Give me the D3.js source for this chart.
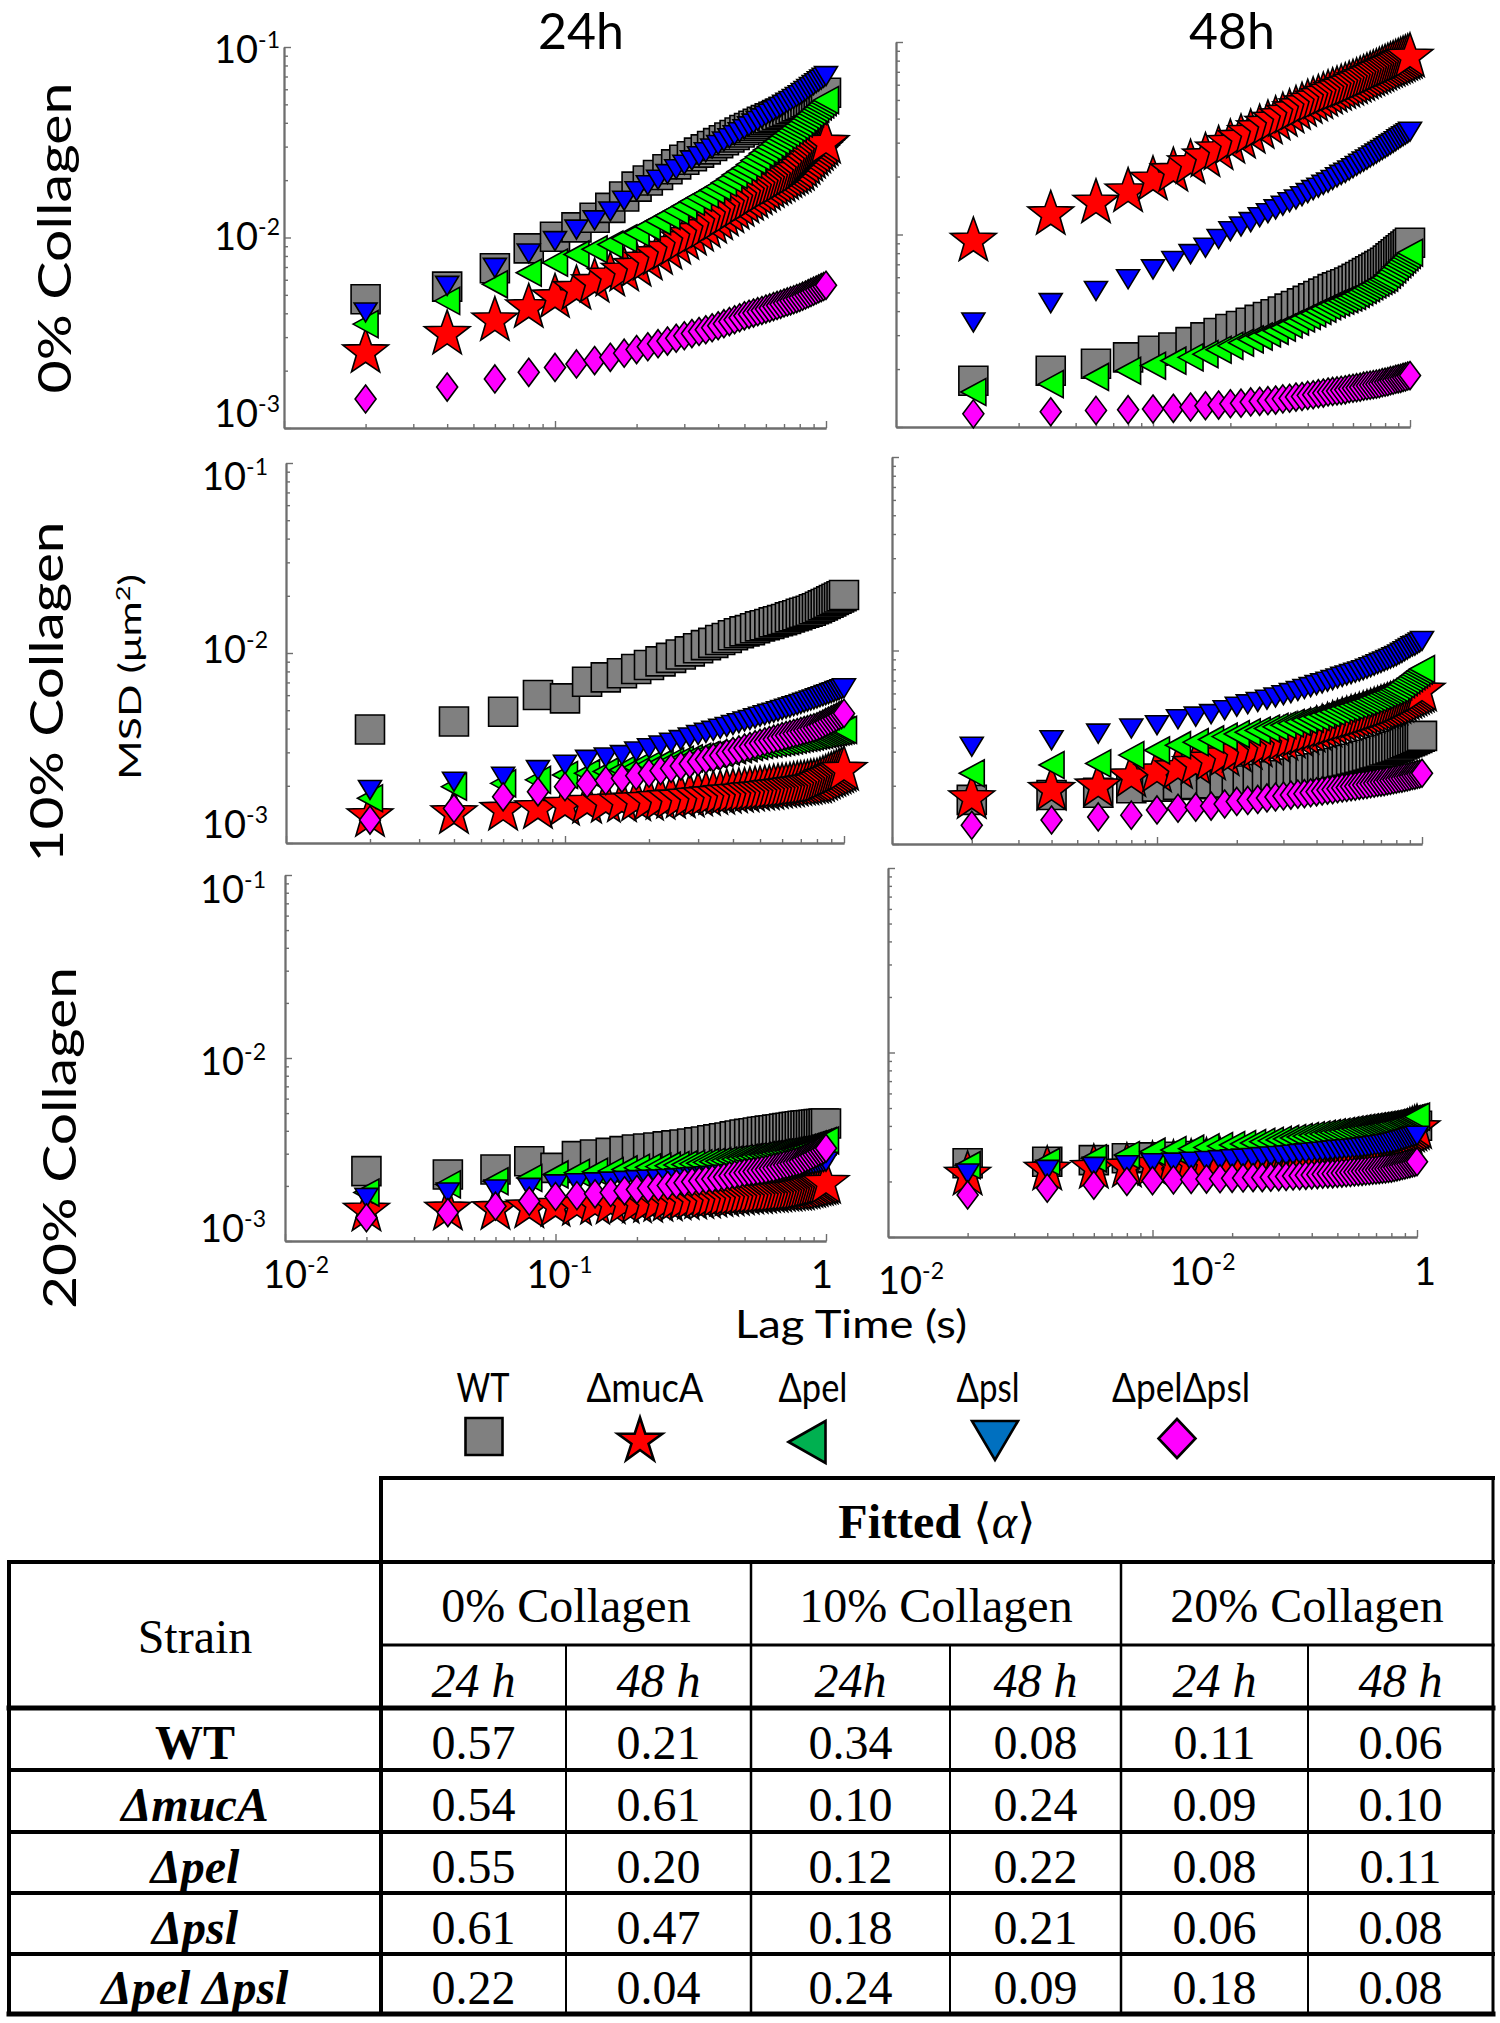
<!DOCTYPE html>
<html><head><meta charset="utf-8">
<script src="https://cdn.jsdelivr.net/npm/d3@7"></script>
<style>body{margin:0;background:#fff}svg{display:block}</style>
</head><body>
<script>
// ---------------- DATA ----------------
// Lag time (s)
const lagTime = [0.02,0.04,0.06,0.08,0.10,0.12,0.14,0.16,0.18,0.20,0.22,0.24,0.26,0.28,0.30,0.32,0.34,0.36,0.38,0.40,0.42,0.44,0.46,0.48,0.50,0.52,0.54,0.56,0.58,0.60,0.62,0.64,0.66,0.68,0.70,0.72,0.74,0.76,0.78,0.80,0.82,0.84,0.86,0.88,0.90,0.92,0.94,0.96,0.98,1.00];
const strains = ['WT','ΔmucA','Δpel','Δpsl','ΔpelΔpsl'];
const timePoints = ['24h','48h'];
const collagenLevels = ['0% Collagen','10% Collagen','20% Collagen'];

// MSD values, in units of 10^-3 μm^2
// 0% collagen, 24 h
const c0_24_WT     = [4.74,5.52,6.89,8.77,10.1,11.3,12.7,14.3,16.4,18.5,19.9,21.3,22.8,24.2,25.6,26.7,27.9,29.0,30.2,31.3,32.4,33.5,34.5,35.6,36.7,37.6,38.6,39.5,40.5,41.4,42.2,43.0,43.9,44.7,45.5,46.3,47.1,48.0,48.8,49.6,50.4,51.2,52.0,52.8,53.6,54.3,55.1,55.9,56.7,57.5];
const c0_24_mucA   = [2.49,3.11,3.66,4.29,4.84,5.35,5.82,6.28,6.68,7.08,7.62,8.16,8.69,9.23,9.77,10.3,10.8,11.3,11.9,12.4,13.0,13.5,14.1,14.6,15.2,15.7,16.2,16.8,17.3,17.8,18.3,18.8,19.2,19.7,20.2,20.7,21.2,21.6,22.1,22.6,23.5,24.3,25.2,26.1,27.0,27.8,28.7,29.6,30.4,31.3];
const c0_24_pel    = [3.51,4.65,5.68,6.53,7.38,8.15,8.67,9.18,9.89,10.6,11.4,12.2,13.0,13.8,14.6,15.4,16.2,16.9,17.7,18.5,19.4,20.3,21.3,22.2,23.1,24.2,25.4,26.5,27.7,28.8,29.9,31.0,32.1,33.2,34.3,35.3,36.4,37.5,38.6,39.7,41.0,42.3,43.6,44.9,46.2,47.4,48.7,50.0,51.3,52.6];
const c0_24_psl    = [4.04,5.57,6.93,8.24,9.57,11.0,12.3,13.7,15.6,17.5,18.8,20.1,21.5,22.8,24.1,25.4,26.7,28.0,29.3,30.6,31.9,33.2,34.4,35.7,37.0,38.3,39.6,40.9,42.2,43.5,44.7,46.0,47.2,48.4,49.7,50.9,52.1,53.3,54.6,55.8,57.3,58.7,60.2,61.6,63.1,64.5,66.0,67.4,68.9,70.3];
const c0_24_pelpsl = [1.42,1.64,1.81,1.96,2.08,2.17,2.26,2.35,2.47,2.58,2.67,2.77,2.86,2.96,3.05,3.13,3.21,3.28,3.36,3.44,3.53,3.62,3.70,3.79,3.88,3.95,4.01,4.08,4.14,4.21,4.27,4.34,4.40,4.46,4.53,4.59,4.65,4.71,4.78,4.84,4.92,4.99,5.07,5.15,5.23,5.30,5.38,5.46,5.53,5.61];
// 0% collagen, 48 h
const c0_48_WT     = [1.74,1.96,2.13,2.30,2.49,2.59,2.76,2.92,3.08,3.23,3.35,3.48,3.60,3.73,3.85,3.98,4.12,4.25,4.39,4.52,4.66,4.79,4.93,5.06,5.20,5.31,5.42,5.52,5.63,5.74,5.88,6.02,6.16,6.30,6.44,6.57,6.71,6.85,6.99,7.13,7.32,7.52,7.71,7.90,8.10,8.29,8.48,8.67,8.87,9.06];
const c0_48_mucA   = [9.25,12.7,14.6,16.7,19.2,21.3,23.4,25.4,27.6,29.8,31.7,33.6,35.6,37.5,39.4,41.1,42.8,44.6,46.3,48.0,49.4,50.8,52.3,53.7,55.1,56.2,57.4,58.5,59.7,60.8,62.0,63.2,64.4,65.6,66.8,68.0,69.2,70.4,71.6,72.8,73.9,75.0,76.0,77.1,78.2,79.3,80.4,81.4,82.5,83.6];
const c0_48_pel    = [1.52,1.67,1.82,1.96,2.08,2.21,2.30,2.39,2.52,2.64,2.74,2.85,2.95,3.06,3.16,3.28,3.41,3.53,3.66,3.78,3.89,4.01,4.12,4.24,4.35,4.44,4.53,4.62,4.71,4.80,4.92,5.03,5.15,5.27,5.39,5.50,5.62,5.74,5.85,5.97,6.18,6.38,6.59,6.80,7.01,7.21,7.42,7.63,7.83,8.04];
const c0_48_psl    = [3.49,4.40,5.09,5.85,6.59,7.28,7.91,8.53,9.47,10.4,11.0,11.6,12.3,12.9,13.5,14.1,14.7,15.2,15.8,16.4,17.0,17.5,18.1,18.6,19.2,19.8,20.4,20.9,21.5,22.1,22.7,23.3,23.9,24.5,25.1,25.7,26.3,26.9,27.5,28.1,28.7,29.3,29.9,30.5,31.2,31.8,32.4,33.0,33.6,34.2];
const c0_48_pelpsl = [1.17,1.20,1.22,1.23,1.24,1.25,1.27,1.29,1.30,1.32,1.33,1.35,1.36,1.37,1.38,1.40,1.41,1.43,1.44,1.46,1.47,1.49,1.50,1.52,1.53,1.54,1.55,1.56,1.58,1.59,1.60,1.61,1.63,1.64,1.65,1.66,1.67,1.68,1.70,1.71,1.72,1.74,1.75,1.77,1.78,1.79,1.81,1.82,1.84,1.85];
// 10% collagen, 24 h
const c10_24_WT     = [3.96,4.36,4.91,6.01,5.77,7.06,7.44,7.82,8.24,8.65,9.04,9.43,9.82,10.2,10.6,11.0,11.3,11.7,12.0,12.4,12.7,13.0,13.2,13.5,13.8,14.0,14.2,14.5,14.7,14.9,15.1,15.4,15.6,15.8,16.1,16.3,16.5,16.7,17.0,17.2,17.5,17.8,18.1,18.4,18.7,19.0,19.3,19.6,19.9,20.2];
const c10_24_mucA   = [1.38,1.43,1.49,1.52,1.58,1.62,1.64,1.65,1.67,1.68,1.70,1.72,1.73,1.75,1.77,1.78,1.80,1.81,1.83,1.84,1.85,1.86,1.88,1.89,1.90,1.91,1.92,1.94,1.95,1.96,1.97,1.98,2.00,2.01,2.02,2.03,2.04,2.06,2.07,2.08,2.11,2.15,2.18,2.22,2.25,2.28,2.32,2.35,2.39,2.42];
const c10_24_pel    = [1.72,1.98,2.06,2.15,2.28,2.33,2.38,2.42,2.50,2.58,2.63,2.68,2.74,2.79,2.84,2.89,2.94,2.98,3.03,3.08,3.12,3.16,3.20,3.24,3.28,3.31,3.33,3.36,3.38,3.41,3.44,3.47,3.50,3.53,3.56,3.58,3.61,3.64,3.67,3.70,3.72,3.75,3.77,3.80,3.82,3.84,3.87,3.89,3.92,3.94];
const c10_24_psl    = [1.90,2.10,2.23,2.42,2.58,2.74,2.82,2.90,3.03,3.15,3.26,3.37,3.48,3.59,3.70,3.80,3.89,3.99,4.08,4.18,4.27,4.36,4.44,4.53,4.62,4.70,4.78,4.85,4.93,5.01,5.09,5.16,5.24,5.31,5.39,5.47,5.54,5.62,5.69,5.77,5.85,5.92,6.00,6.07,6.15,6.22,6.30,6.37,6.45,6.52];
const c10_24_pelpsl = [1.32,1.52,1.75,1.86,1.98,2.06,2.13,2.19,2.26,2.33,2.40,2.47,2.54,2.61,2.68,2.75,2.82,2.89,2.96,3.03,3.09,3.16,3.22,3.29,3.35,3.41,3.46,3.52,3.57,3.63,3.68,3.72,3.77,3.81,3.86,3.91,3.95,4.00,4.04,4.09,4.16,4.23,4.31,4.38,4.45,4.52,4.59,4.67,4.74,4.81];
// 10% collagen, 48 h
const c10_48_WT     = [1.69,1.79,1.84,1.94,1.98,2.02,2.04,2.06,2.08,2.10,2.13,2.17,2.20,2.24,2.27,2.31,2.35,2.39,2.42,2.46,2.50,2.54,2.58,2.62,2.66,2.69,2.72,2.76,2.79,2.82,2.86,2.89,2.93,2.96,3.00,3.04,3.07,3.11,3.14,3.18,3.22,3.27,3.31,3.36,3.40,3.44,3.49,3.53,3.58,3.62];
const c10_48_mucA   = [1.72,1.90,1.98,2.23,2.36,2.46,2.59,2.72,2.86,3.00,3.09,3.18,3.26,3.35,3.44,3.53,3.62,3.70,3.79,3.88,3.96,4.04,4.13,4.21,4.29,4.36,4.43,4.49,4.56,4.63,4.70,4.77,4.84,4.91,4.98,5.04,5.11,5.18,5.25,5.32,5.41,5.49,5.58,5.67,5.76,5.84,5.93,6.02,6.10,6.19];
const c10_48_pel    = [2.32,2.56,2.61,2.88,3.05,3.24,3.36,3.47,3.59,3.70,3.78,3.86,3.95,4.03,4.11,4.20,4.28,4.37,4.45,4.54,4.64,4.73,4.83,4.92,5.02,5.10,5.18,5.27,5.35,5.43,5.52,5.62,5.71,5.81,5.90,5.99,6.09,6.18,6.28,6.37,6.54,6.70,6.87,7.03,7.20,7.36,7.53,7.69,7.86,8.02];
const c10_48_psl    = [3.18,3.44,3.72,3.95,4.11,4.41,4.55,4.69,4.91,5.12,5.27,5.42,5.57,5.72,5.87,6.02,6.17,6.32,6.47,6.62,6.76,6.90,7.03,7.17,7.31,7.43,7.55,7.67,7.79,7.91,8.05,8.20,8.34,8.49,8.63,8.77,8.92,9.06,9.21,9.35,9.54,9.72,9.91,10.1,10.3,10.5,10.6,10.8,11.0,11.2];
const c10_48_pelpsl = [1.25,1.33,1.38,1.41,1.50,1.53,1.55,1.57,1.61,1.66,1.68,1.70,1.73,1.75,1.77,1.79,1.81,1.82,1.84,1.86,1.88,1.90,1.91,1.93,1.95,1.96,1.98,1.99,2.01,2.02,2.03,2.05,2.06,2.08,2.09,2.10,2.12,2.13,2.15,2.16,2.18,2.19,2.21,2.22,2.24,2.26,2.27,2.29,2.30,2.32];
// 20% collagen, 24 h
const c20_24_WT     = [2.41,2.31,2.46,2.73,2.51,2.91,2.97,3.03,3.10,3.16,3.20,3.24,3.29,3.33,3.37,3.41,3.46,3.50,3.55,3.59,3.64,3.68,3.73,3.77,3.82,3.85,3.88,3.92,3.95,3.98,4.01,4.03,4.06,4.08,4.11,4.14,4.16,4.19,4.21,4.24,4.26,4.27,4.29,4.30,4.32,4.33,4.35,4.36,4.38,4.39];
const c20_24_mucA   = [1.46,1.48,1.49,1.52,1.55,1.57,1.59,1.60,1.61,1.62,1.63,1.65,1.66,1.68,1.69,1.70,1.71,1.72,1.74,1.75,1.76,1.77,1.78,1.79,1.80,1.81,1.82,1.82,1.83,1.84,1.85,1.85,1.86,1.87,1.88,1.88,1.89,1.90,1.90,1.91,1.93,1.94,1.96,1.97,1.99,2.01,2.02,2.04,2.05,2.07];
const c20_24_pel    = [1.84,2.04,2.12,2.21,2.31,2.36,2.39,2.41,2.46,2.51,2.53,2.55,2.58,2.60,2.62,2.64,2.66,2.69,2.71,2.73,2.75,2.78,2.80,2.83,2.85,2.87,2.90,2.92,2.95,2.97,2.99,3.01,3.04,3.06,3.08,3.10,3.12,3.15,3.17,3.19,3.23,3.26,3.30,3.33,3.37,3.40,3.44,3.47,3.51,3.54];
const c20_24_psl    = [1.72,1.84,1.91,1.95,2.04,2.07,2.09,2.11,2.13,2.15,2.16,2.17,2.18,2.20,2.21,2.23,2.24,2.26,2.27,2.29,2.30,2.32,2.33,2.35,2.36,2.37,2.39,2.40,2.42,2.43,2.44,2.46,2.47,2.48,2.50,2.51,2.52,2.53,2.55,2.56,2.58,2.59,2.61,2.62,2.64,2.65,2.67,2.68,2.70,2.71];
const c20_24_pelpsl = [1.34,1.43,1.55,1.65,1.75,1.77,1.81,1.84,1.88,1.91,1.94,1.98,2.01,2.05,2.08,2.11,2.13,2.16,2.18,2.21,2.24,2.27,2.30,2.33,2.36,2.38,2.40,2.42,2.44,2.46,2.49,2.51,2.54,2.57,2.60,2.62,2.65,2.68,2.70,2.73,2.78,2.83,2.87,2.92,2.97,3.02,3.07,3.11,3.16,3.21];
// 20% collagen, 48 h
const c20_48_WT     = [2.51,2.56,2.61,2.67,2.70,2.72,2.75,2.78,2.81,2.84,2.87,2.90,2.93,2.96,2.99,3.02,3.05,3.07,3.10,3.13,3.16,3.18,3.21,3.23,3.26,3.28,3.30,3.32,3.34,3.36,3.39,3.41,3.44,3.46,3.49,3.51,3.54,3.56,3.59,3.61,3.65,3.69,3.73,3.77,3.81,3.85,3.89,3.93,3.97,4.01];
const c20_48_mucA   = [2.17,2.31,2.36,2.40,2.45,2.49,2.52,2.56,2.58,2.61,2.64,2.67,2.69,2.72,2.75,2.78,2.81,2.83,2.86,2.89,2.91,2.94,2.96,2.99,3.01,3.03,3.05,3.07,3.09,3.11,3.13,3.15,3.18,3.20,3.22,3.24,3.26,3.29,3.31,3.33,3.39,3.44,3.50,3.55,3.61,3.66,3.72,3.77,3.83,3.88];
const c20_48_pel    = [2.45,2.56,2.67,2.78,2.90,2.96,3.01,3.06,3.11,3.15,3.19,3.23,3.28,3.32,3.36,3.40,3.44,3.48,3.52,3.56,3.59,3.62,3.66,3.69,3.72,3.75,3.78,3.82,3.85,3.88,3.91,3.93,3.96,3.98,4.01,4.03,4.06,4.08,4.11,4.13,4.17,4.20,4.24,4.27,4.31,4.35,4.38,4.42,4.45,4.49];
const c20_48_psl    = [2.21,2.31,2.40,2.45,2.51,2.53,2.56,2.58,2.61,2.64,2.66,2.68,2.71,2.73,2.75,2.77,2.79,2.82,2.84,2.86,2.88,2.90,2.92,2.94,2.96,2.97,2.99,3.00,3.02,3.03,3.05,3.07,3.09,3.11,3.13,3.14,3.16,3.18,3.20,3.22,3.25,3.28,3.32,3.35,3.38,3.41,3.44,3.48,3.51,3.54];
const c20_48_pelpsl = [1.69,1.84,1.91,2.00,2.02,2.04,2.05,2.06,2.07,2.08,2.09,2.10,2.10,2.11,2.12,2.13,2.14,2.15,2.16,2.17,2.18,2.19,2.20,2.20,2.21,2.22,2.23,2.24,2.25,2.26,2.27,2.28,2.29,2.30,2.31,2.32,2.33,2.34,2.35,2.36,2.38,2.40,2.42,2.44,2.46,2.48,2.50,2.52,2.54,2.56];

// Axis ticks (MSD in 10^-3 μm^2 ; lag in s)
const yMajorTicks = [1,10,100];
const yTickLabels = [['10','-3'],['10','-2'],['10','-1']];
const xMajorTicks = [0.01,0.1,1];
const xTickLabelsLeft  = [['10','-2'],['10','-1'],['1','']];
const xTickLabelsRight = [['10','-2'],['10','-2'],['1','']];

// Table: fitted <alpha>
const tableTimes = ['24 h','48 h','24h','48 h','24 h','48 h'];
const alphaWT     = [0.57,0.21,0.34,0.08,0.11,0.06];
const alphaMucA   = [0.54,0.61,0.10,0.24,0.09,0.10];
const alphaPel    = [0.55,0.20,0.12,0.22,0.08,0.11];
const alphaPsl    = [0.61,0.47,0.18,0.21,0.06,0.08];
const alphaPelPsl = [0.22,0.04,0.24,0.09,0.18,0.08];
const tableStrainLabels = ['WT','ΔmucA','Δpel','Δpsl','Δpel Δpsl'];

// ---------------- DRAW ----------------
const W = 1500, H = 2023;
const svg = d3.select('body').append('svg').attr('width', W).attr('height', H);
svg.append('rect').attr('width', W).attr('height', H).attr('fill', '#fff');
const SANS = "Lato, 'Open Sans', 'DejaVu Sans', sans-serif";
const SERIF = "'Liberation Serif', 'DejaVu Serif', serif";

const plotFills = ['#808080', '#ff0000', '#00ff00', '#0000ff', '#ff00ff'];
const legendFills = ['#808080', '#ff0000', '#00b050', '#0070c0', '#ff00ff'];

function starPath(R, r) {
  const p = d3.path();
  for (let i = 0; i < 10; i++) {
    const a = -Math.PI / 2 + i * Math.PI / 5;
    const rr = i % 2 === 0 ? R : r;
    const x = rr * Math.cos(a), y = rr * Math.sin(a);
    if (i === 0) p.moveTo(x, y); else p.lineTo(x, y);
  }
  p.closePath();
  return p.toString();
}
const markerPaths = [
  'M-14.5,-14.5H14.5V14.5H-14.5Z',
  starPath(24, 9.8),
  'M-12.5,0L12.5,-13.5L12.5,13.5Z',
  'M-11.5,-9.5L11.5,-9.5L0,9.5Z',
  'M0,-14L10.5,0L0,14L-10.5,0Z'
];

// panel frames [xLeft, xRight, yBottom, yTop]
const frames = [
  [284, 826, 428, 47], [896, 1410, 427, 42],
  [286, 844, 843, 463], [892, 1422, 844, 457],
  [285, 826, 1241, 875], [888, 1417, 1237, 868]
];
const panelSeries = [
  [c0_24_WT, c0_24_mucA, c0_24_pel, c0_24_psl, c0_24_pelpsl],
  [c0_48_WT, c0_48_mucA, c0_48_pel, c0_48_psl, c0_48_pelpsl],
  [c10_24_WT, c10_24_mucA, c10_24_pel, c10_24_psl, c10_24_pelpsl],
  [c10_48_WT, c10_48_mucA, c10_48_pel, c10_48_psl, c10_48_pelpsl],
  [c20_24_WT, c20_24_mucA, c20_24_pel, c20_24_psl, c20_24_pelpsl],
  [c20_48_WT, c20_48_mucA, c20_48_pel, c20_48_psl, c20_48_pelpsl]
];
const yMinor = [], xMinor = [];
[1, 10].forEach(d => { for (let m = 2; m <= 9; m++) yMinor.push(d * m); });
[0.01, 0.1].forEach(d => { for (let m = 2; m <= 9; m++) xMinor.push(d * m); });

// tick label placement tweaks per row
const yLabelRight = [280, 268, 266];
const yLabelDy = [[-1, 12.5, 16], [-5, 10, 27], [1, 17, 28]];

function supText(sel, base, sup, supSize, raise) {
  sel.append('tspan').text(base);
  if (sup) sel.append('tspan').attr('font-size', supSize).attr('dy', -raise).text(sup);
}

frames.forEach((f, p) => {
  const x = d3.scaleLog().domain([0.01, 1]).range([f[0], f[1]]);
  const y = d3.scaleLog().domain([1, 100]).range([f[2], f[3]]);
  const g = svg.append('g');
  const ax = g.append('g').attr('class', 'axes');
  ax.append('g').attr('transform', `translate(${f[0]},0)`)
    .call(d3.axisRight(y).tickValues(yMinor).tickSize(4).tickSizeOuter(0).tickFormat(''));
  ax.append('g').attr('transform', `translate(${f[0]},0)`)
    .call(d3.axisRight(y).tickValues(yMajorTicks).tickSize(7).tickSizeOuter(0).tickFormat(''));
  ax.append('g').attr('transform', `translate(0,${f[2]})`)
    .call(d3.axisTop(x).tickValues(xMinor).tickSize(4).tickSizeOuter(0).tickFormat(''));
  ax.append('g').attr('transform', `translate(0,${f[2]})`)
    .call(d3.axisTop(x).tickValues(xMajorTicks).tickSize(7).tickSizeOuter(0).tickFormat(''));
  ax.selectAll('path.domain').attr('stroke', '#6e6e6e').attr('stroke-width', 1.8);
  ax.selectAll('.tick line').attr('stroke', '#6e6e6e').attr('stroke-width', 1.4);

  // markers
  panelSeries[p].forEach((vals, s) => {
    g.append('g').selectAll('path').data(vals).enter().append('path')
      .attr('d', markerPaths[s])
      .attr('transform', (v, i) => `translate(${x(lagTime[i])},${y(v)})`)
      .attr('fill', plotFills[s]).attr('stroke', '#000').attr('stroke-width', 1.6)
      .attr('stroke-linejoin', 'miter');
  });

  const row = Math.floor(p / 2), col = p % 2;
  if (col === 0) {
    yMajorTicks.forEach((t, i) => {
      const tx = svg.append('text').attr('x', yLabelRight[row]).attr('y', y(t) + yLabelDy[row][i])
        .attr('text-anchor', 'end').attr('font-family', SANS).attr('font-size', 38).attr('fill', '#000');
      supText(tx, yTickLabels[i][0], yTickLabels[i][1], 23, 15);
    });
  }
  if (row === 2) {
    const labs = col === 0 ? xTickLabelsLeft : xTickLabelsRight;
    const dxs = col === 0 ? [11, 4, -4] : [23, 50, 8];
    const bls = col === 0 ? [1288, 1288, 1288] : [1294, 1285, 1285];
    xMajorTicks.forEach((t, i) => {
      const tx = svg.append('text').attr('x', x(t) + dxs[i]).attr('y', bls[i])
        .attr('text-anchor', 'middle').attr('font-family', SANS).attr('font-size', 38).attr('fill', '#000');
      supText(tx, labs[i][0], labs[i][1], 23, 15);
    });
  }
  if (row === 0) {
    svg.append('text').attr('x', col === 0 ? 581 : 1232).attr('y', 49)
      .attr('text-anchor', 'middle').attr('font-family', SANS).attr('font-size', 50)
      .text(timePoints[col]);
  }
});

// Row labels (rotated)
const rowLabelPos = [[71, 238, 311], [63, 692, 341], [76, 1138, 342]];
collagenLevels.forEach((lab, i) => {
  const [bx, cy, len] = rowLabelPos[i];
  svg.append('text').attr('transform', `translate(${bx},${cy}) rotate(-90)`)
    .attr('text-anchor', 'middle').attr('font-family', SANS).attr('font-size', 46)
    .attr('textLength', len).attr('lengthAdjust', 'spacingAndGlyphs').text(lab);
});
// MSD label
{
  const t = svg.append('text').attr('transform', 'translate(141,677) rotate(-90)')
    .attr('text-anchor', 'middle').attr('font-family', SANS).attr('font-size', 30)
    .attr('textLength', 206).attr('lengthAdjust', 'spacingAndGlyphs');
  t.append('tspan').text('MSD (μm');
  t.append('tspan').attr('font-size', 19).attr('dy', -11).text('2');
  t.append('tspan').attr('dy', 11).text(')');
}
// Lag time label
svg.append('text').attr('x', 851).attr('y', 1338).attr('text-anchor', 'middle')
  .attr('font-family', SANS).attr('font-size', 39).attr('textLength', 232)
  .attr('lengthAdjust', 'spacingAndGlyphs').text('Lag Time (s)');

// Legend
const legendCx = [484, 640, 807, 995, 1177];
const legendTextX = [483, 645, 813, 988, 1181];
const legendTextLen = [53, 117, 69, 63, 138];
const legendMarkers = [
  'M-18.5,-18.5H18.5V18.5H-18.5Z',
  starPath(23.5, 9),
  'M-18.5,0L18.5,-21L18.5,21Z',
  'M-23,-19.5L23,-19.5L0,19.5Z',
  'M0,-19.5L18.5,0L0,19.5L-18.5,0Z'
];
const legendCy = [1436.5, 1441, 1442, 1440.5, 1438.5];
strains.forEach((s, i) => {
  svg.append('text').attr('x', legendTextX[i]).attr('y', 1402).attr('text-anchor', 'middle')
    .attr('font-family', SANS).attr('font-size', 40)
    .attr('textLength', legendTextLen[i]).attr('lengthAdjust', 'spacingAndGlyphs').text(s);
  svg.append('path').attr('d', legendMarkers[i])
    .attr('transform', `translate(${legendCx[i]},${legendCy[i]})`)
    .attr('fill', legendFills[i]).attr('stroke', '#000').attr('stroke-width', 2.6)
    .attr('stroke-linejoin', 'miter');
});

// ---------------- TABLE ----------------
const colX = [9, 381, 566, 751, 950, 1121, 1308, 1493];
const rowY = [1478, 1562, 1645, 1708, 1770, 1832, 1893, 1954, 2014];
const tg = svg.append('g').attr('stroke', '#000').attr('stroke-linecap', 'square');
function hl(y, x1, x2, w) { tg.append('line').attr('x1', x1).attr('x2', x2).attr('y1', y).attr('y2', y).attr('stroke-width', w); }
function vl(x, y1, y2, w) { tg.append('line').attr('x1', x).attr('x2', x).attr('y1', y1).attr('y2', y2).attr('stroke-width', w); }
hl(rowY[0], colX[1], colX[7], 4);
hl(rowY[1], colX[0], colX[7], 4);
hl(rowY[2], colX[1], colX[7], 3);
hl(rowY[3], colX[0], colX[7], 5);
[4, 5, 6, 7].forEach(i => hl(rowY[i], colX[0], colX[7], 4));
hl(rowY[8], colX[0], colX[7], 5);
vl(colX[0], rowY[1], rowY[8], 4);
vl(colX[1], rowY[0], rowY[8], 4);
vl(colX[7], rowY[0], rowY[8], 3);
[3, 5].forEach(i => vl(colX[i], rowY[1], rowY[8], 2.5));
[2, 4, 6].forEach(i => vl(colX[i], rowY[2], rowY[8], 2));

const tt = svg.append('g').attr('font-family', SERIF).attr('font-size', 48).attr('fill', '#000').attr('text-anchor', 'middle');
{
  const t = tt.append('text').attr('x', (colX[1] + colX[7]) / 2).attr('y', 1538);
  t.append('tspan').attr('font-weight', 'bold').text('Fitted ');
  t.append('tspan').text('⟨');
  t.append('tspan').attr('font-style', 'italic').text('α');
  t.append('tspan').text('⟩');
}
tt.append('text').attr('x', (colX[0] + colX[1]) / 2).attr('y', 1653).text('Strain');
collagenLevels.forEach((c, i) => {
  tt.append('text').attr('x', (colX[1 + 2 * i] + colX[3 + 2 * i]) / 2).attr('y', 1622).text(c);
});
tableTimes.forEach((t, i) => {
  tt.append('text').attr('x', (colX[1 + i] + colX[2 + i]) / 2).attr('y', 1697)
    .attr('font-style', 'italic').text(t);
});
const alphaRows = [alphaWT, alphaMucA, alphaPel, alphaPsl, alphaPelPsl];
alphaRows.forEach((vals, r) => {
  const yb = (rowY[3 + r] + rowY[4 + r]) / 2 + 20;
  tt.append('text').attr('x', (colX[0] + colX[1]) / 2).attr('y', yb)
    .attr('font-weight', 'bold').attr('font-style', r === 0 ? 'normal' : 'italic')
    .text(tableStrainLabels[r]);
  vals.forEach((v, i) => {
    tt.append('text').attr('x', (colX[1 + i] + colX[2 + i]) / 2).attr('y', yb).text(v.toFixed(2));
  });
});
</script>
</body></html>
